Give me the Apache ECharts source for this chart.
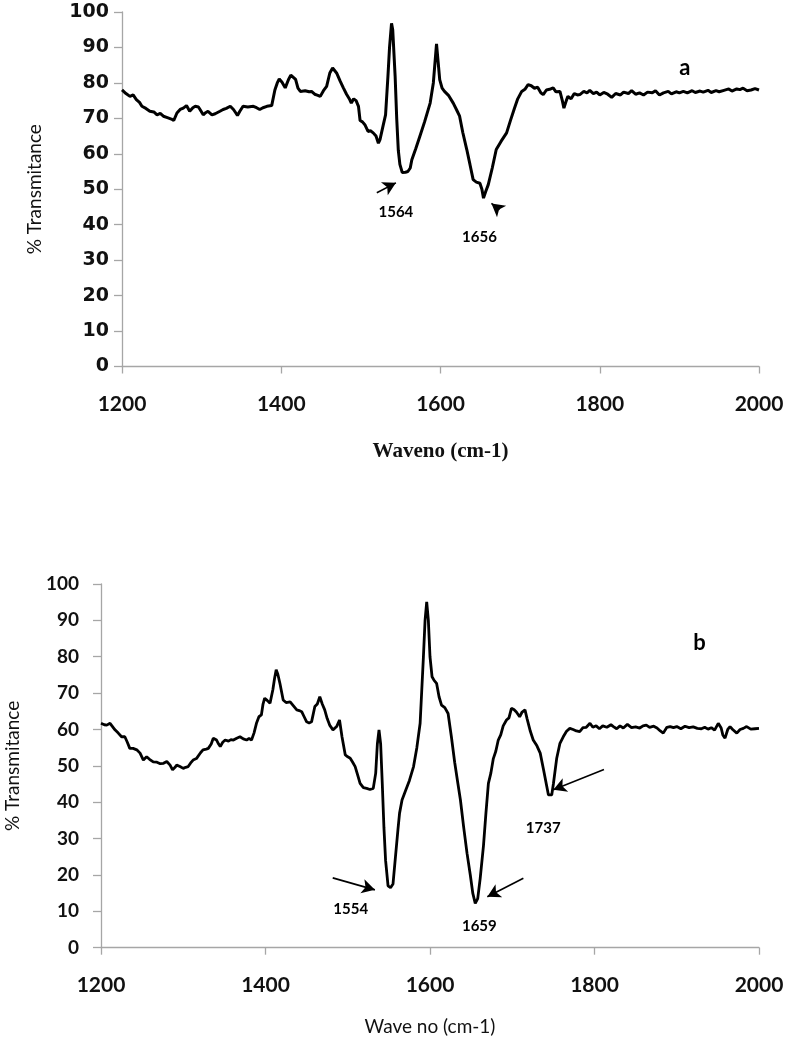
<!DOCTYPE html>
<html>
<head>
<meta charset="utf-8">
<script src="https://cdn.jsdelivr.net/npm/echarts@6/dist/echarts.min.js"></script>
<style>
  html, body { margin: 0; padding: 0; background: #fff; }
  #chart { width: 787px; height: 1046px; }
</style>
</head>
<body>
<div id="chart"></div>
<script>
// spectrum a
var waveA = [1200,1205,1210,1214,1218,1222,1225,1230,1235,1240,1244,1248,1252,1257,1262,1265,1269,1273,1277,1281,1285,1289,1292,1296,1298,1302,1305,1308,1313,1317,1319,1323,1327,1331,1336,1340,1343,1345,1348,1352,1358,1365,1369,1373,1377,1382,1388,1392,1395,1397.5,1401,1405,1409,1412,1414,1418,1421,1424,1430,1435,1438,1442,1446,1449,1453,1457,1461,1464.5,1467,1469.5,1474,1478,1482,1486,1488,1491,1494,1497,1499,1502,1505,1509,1512,1515.5,1519,1522,1524,1528,1531,1534,1536,1538.5,1540,1543,1545,1547,1549,1552,1556,1559,1562,1564,1569,1574,1580,1587,1591,1595,1597,1599,1602,1605,1610,1616,1620,1624,1628,1633,1637,1641,1645,1649.5,1652,1654,1657,1660,1665,1670,1676,1683,1688,1693,1697,1702,1706,1710,1714,1718,1722,1726,1729,1733,1737,1741.5,1745,1750,1753,1755,1758,1760,1764,1768,1772,1775,1780,1784,1787.5,1792,1796,1800,1805,1810,1815,1820,1826,1830,1836,1840,1845,1850,1855,1860,1866,1870,1875,1880,1886,1890,1896,1900,1905,1910,1916,1920,1926,1930,1936,1940,1946,1950,1956,1962,1966,1972,1976,1980,1985,1990,1995,2000];
var transA = [78,77,76.2,76.6,75.3,74.5,73.4,72.8,72,71.8,71,71.4,70.6,70.2,69.8,69.4,71.5,72.5,72.9,73.6,72,73,73.4,73.2,72.5,71,71.6,72,71,71.3,71.5,72,72.5,72.8,73.4,72.5,71.5,70.8,72,73.4,73.2,73.4,73,72.5,73,73.4,73.6,78,80,81.1,80.2,78.6,80.9,82.2,82.6,81,78.5,77.6,77.8,77.5,77.6,76.8,76.5,76.2,77.8,79,82.8,84.2,84,82.8,80.5,78.6,76.8,75.3,74.3,75.5,75,73.4,69.4,69,68.2,66.3,66.5,65.9,65,63,64,68,71,81.9,90,96.8,95,82,70,61,57,54.7,54.8,55,56,58.3,61.5,64.9,69,74.3,80,91,86,80.9,78.5,77.6,76.5,74.3,72.5,70.6,66,61.2,57,52.7,52,51.7,50,47.5,49.5,51.3,56,61.2,63.5,65.9,69.5,72.9,75.5,77.6,78.2,79.5,79.2,78.5,78.8,77.2,76.7,78,78.2,78.6,77.5,77.6,75,72.9,75,76.2,75.5,77,76.6,76.7,77.6,77.2,77.9,77,77.4,76.6,77.3,76.8,75.9,77,76.6,77.4,77,77.8,76.8,77.2,76.6,77.4,77.2,77.8,76.6,77.2,77.6,76.9,77.5,77.2,77.6,77.2,77.8,77.3,77.7,77.4,77.9,77.3,77.8,77.5,77.9,78.3,77.7,78.3,78.1,78.5,77.8,78,78.4,78];

// spectrum b
var waveB = [1200,1204,1207,1211,1214,1217,1221,1225,1229,1232,1235,1239,1243.5,1247.5,1251.5,1255.5,1259,1263.5,1268,1272,1276,1280,1284,1287,1290,1292,1296,1300,1303,1306,1309,1312,1316,1318,1321,1324,1328,1330.5,1334,1336.5,1340.5,1343,1345,1348,1351,1355,1358,1361,1365,1369,1373,1377,1380,1383,1386,1389,1392,1395,1397,1399,1402,1405.5,1409,1411,1413,1415,1417.5,1421.5,1425,1430,1434,1438,1441,1444,1447,1450,1453,1456,1460,1463,1466,1469,1472,1475,1478,1482,1486.5,1490,1493,1497,1500,1503,1506,1509,1512,1515,1519,1523,1527,1531,1534,1536,1538,1540,1542,1544,1546,1549,1552,1555,1558,1561,1563,1566,1570,1575,1580,1584,1588,1592,1594,1596,1598,1600,1602.5,1605,1608,1611,1614,1618,1622,1626,1630,1634,1637,1641,1645,1649,1652,1655,1658,1661,1665,1668,1671,1674,1677,1680,1683,1686,1689,1693,1696,1699,1702,1705,1709,1712,1715.5,1718,1722,1725.5,1730,1734,1738,1742,1744,1746,1748,1750,1754,1758,1762,1766,1770,1774,1778,1782,1786,1790,1794.5,1798,1802,1806,1810,1815,1820,1823,1827,1831,1835,1840,1845,1850,1855,1859,1863,1867,1872,1876,1880,1883.6,1888,1892,1896,1900,1905,1910,1915,1920,1925,1930,1934,1938,1942,1946,1950.5,1954,1956,1958.7,1962,1964.8,1968,1973,1977,1981,1985,1990,1995,2000];
var transB = [61.7,61.3,61.2,61.7,60.8,59.9,59,58,58,56.5,54.8,54.8,54.4,53.5,51.6,52.5,51.8,51.1,51,50.6,50.7,51.2,50.2,48.9,49.6,50.2,49.8,49.3,49.6,49.8,50.8,51.6,52,52.5,53.6,54.4,54.6,54.8,56,57.6,57.1,56,55.3,56.5,57.1,56.8,57.2,57.1,57.6,58,57.4,57.1,57.5,57.1,59,61.7,63.5,64,67,68.6,68,67.2,71,74,76.4,75.2,72.7,68.1,67.4,67.6,66.5,65.4,65.2,64.9,63.5,62.1,61.8,62.1,66.3,67,69,67,65.4,63,61.2,59.9,60.8,62.6,58,53,52.5,52.1,51,49.8,47.5,45.2,44,43.8,43.5,43.8,48,56,59.9,56,45,33,24,17,16.5,17.5,25,32.4,37,40.6,43,46,49.8,55,61.7,80,90,95.1,90,80,74.5,73.5,72.7,69,66.7,66,64.4,58,51,45,40.6,33,26,20,15,12.2,13.5,19,28,37,45.2,48,52,54,57.1,58.5,61,62.6,63.2,65.8,65.5,64.8,63.5,64.8,65.4,63,59.5,57.1,55.5,53.5,49,44.3,42,41.5,42,45,52,56.2,58,59.5,60.3,60,59.6,59.4,60.5,60.6,61.7,60.6,61,60.2,61,60.6,61.3,60.8,60.2,61,60.4,61.4,60.5,60.7,60.4,61,61.2,60.6,60.9,60.4,59.6,59,60.6,60.8,60.5,60.8,60.2,60.9,60.5,60.7,60.3,60.2,60.6,60.1,60.5,59.8,61.7,60.4,58.5,57.6,60,60.8,60,59,60,60.3,60.8,60.1,60.2,60.3];

var xTicks = [1200, 1400, 1600, 1800, 2000];
var yTicks = [0, 10, 20, 30, 40, 50, 60, 70, 80, 90, 100];

// peak labels [wave, trans, text] and arrows [[from], [to]]
var labelsA = [[1544, 43.4, '1564'], [1649, 36.5, '1656']];
var arrowsA = [[[1520, 49], [1544, 51.8]], [[1674, 44.2], [1664, 46]]];
var labelsB = [[1503.6, 10.6, '1554'], [1660, 5.8, '1659'], [1737.7, 32.8, '1737']];
var arrowsB = [[[1481.7, 19.2], [1533, 15.9]], [[1713.5, 19.1], [1669.7, 14]], [[1811.5, 49], [1750, 43.4]]];
var panelA = [1907, 84.2, 'a'];
var panelB = [1927.5, 83.7, 'b'];

function zip(xs, ys) {
    var out = [];
    for (var i = 0; i < xs.length; i++) out.push([xs[i], ys[i]]);
    return out;
}

function xAxisFor(idx, name, nameFont, nameGap) {
    return {
        type: 'value', gridIndex: idx, min: xTicks[0], max: xTicks[xTicks.length - 1],
        interval: 200,
        name: name, nameLocation: 'middle', nameGap: nameGap,
        nameTextStyle: nameFont,
        axisLine: { lineStyle: { color: '#a6a6a6', width: 1.3 } },
        axisTick: { length: 7, lineStyle: { color: '#a6a6a6', width: 1.3 } },
        axisLabel: {
            margin: 27, color: '#111', fontSize: 21, fontWeight: 'bold', fontFamily: 'Lato',
            formatter: function (v) { return String(v); }
        },
        splitLine: { show: false }
    };
}

function yAxisFor(idx, labelFont, labelSize, margin, nameGap) {
    return {
        type: 'value', gridIndex: idx, min: yTicks[0], max: yTicks[yTicks.length - 1], interval: 10,
        name: '% Transmitance', nameLocation: 'middle', nameGap: nameGap,
        nameTextStyle: { fontFamily: 'Lato', fontSize: 19, color: '#111' },
        axisLine: { show: true, lineStyle: { color: '#a6a6a6', width: 1.3 } },
        axisTick: { show: true, length: 8, lineStyle: { color: '#a6a6a6', width: 1.3 } },
        axisLabel: { margin: margin, color: '#111', fontSize: labelSize, fontWeight: 'bold', fontFamily: labelFont },
        splitLine: { show: false }
    };
}

function markers(labels, arrows, panel, panelSize) {
    var pts = labels.map(function (l) {
        return { coord: [l[0], l[1]], value: l[2],
                 label: { fontSize: 15, fontWeight: 'bold', fontFamily: 'Lato' } };
    });
    pts.push({ coord: [panel[0], panel[1]], value: panel[2],
               label: { fontSize: panelSize, fontWeight: 'bold', fontFamily: 'Lato' } });
    return {
        markPoint: {
            symbol: 'circle', symbolSize: 0, silent: true,
            label: { show: true, position: 'inside', color: '#000', formatter: '{c}' },
            data: pts
        },
        markLine: {
            silent: true, symbol: ['none', 'arrow'], symbolSize: [11, 13],
            label: { show: false },
            lineStyle: { color: '#000', width: 1.6, type: 'solid' },
            data: arrows.map(function (a) {
                return [{ coord: a[0] }, { coord: a[1] }];
            })
        }
    };
}

var chart = echarts.init(document.getElementById('chart'));

var seriesA = Object.assign({
    type: 'line', xAxisIndex: 0, yAxisIndex: 0, showSymbol: false,
    lineStyle: { color: '#000', width: 3 }, data: zip(waveA, transA)
}, markers(labelsA, arrowsA, panelA, 22));

var seriesB = Object.assign({
    type: 'line', xAxisIndex: 1, yAxisIndex: 1, showSymbol: false,
    lineStyle: { color: '#000', width: 2.8 }, data: zip(waveB, transB)
}, markers(labelsB, arrowsB, panelB, 22));

var option = {
    animation: false,
    backgroundColor: '#fff',
    grid: [
        { left: 122, right: 28, top: 12, height: 354.5, outerBoundsMode: 'none', containLabel: false },
        { left: 101, right: 28, top: 584, height: 363.7, outerBoundsMode: 'none', containLabel: false }
    ],
    xAxis: [
        xAxisFor(0, 'Waveno (cm-1)', { fontFamily: 'Liberation Serif', fontWeight: 'bold', fontSize: 21, color: '#111' }, 75),
        xAxisFor(1, 'Wave no (cm-1)', { fontFamily: 'Lato', fontSize: 19, color: '#111' }, 70)
    ],
    yAxis: [
        yAxisFor(0, 'DejaVu Sans', 19, 13, 78),
        yAxisFor(1, 'Lato', 19, 22, 79)
    ],
    series: [seriesA, seriesB]
};

chart.setOption(option);
</script>
</body>
</html>
